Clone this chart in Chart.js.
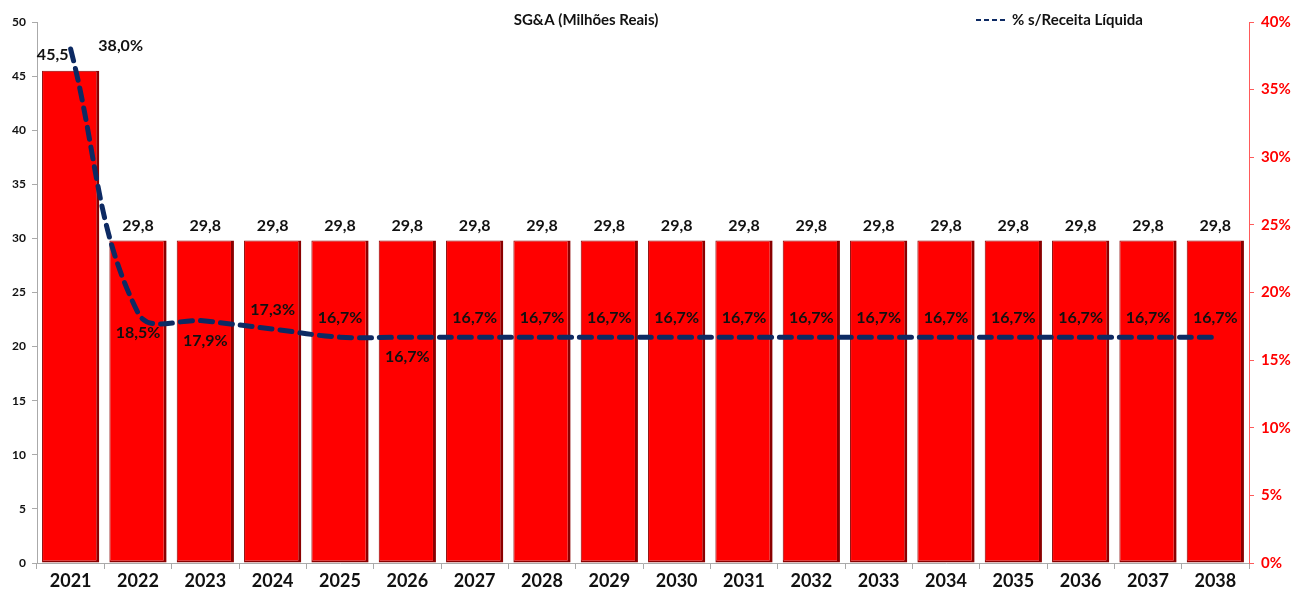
<!DOCTYPE html>
<html>
<head>
<meta charset="utf-8">
<script src="https://cdn.jsdelivr.net/npm/chart.js@4.4.1/dist/chart.umd.min.js"></script>
<style>
html,body{margin:0;padding:0;background:#fff;}
#wrap{width:1297px;height:596px;position:relative;}
</style>
</head>
<body>
<div id="wrap"><canvas id="c" width="1297" height="596"></canvas></div>
<script>
const categories = ['2021','2022','2023','2024','2025','2026','2027','2028','2029','2030','2031','2032','2033','2034','2035','2036','2037','2038'];
const sgaValues = [45.5,29.8,29.8,29.8,29.8,29.8,29.8,29.8,29.8,29.8,29.8,29.8,29.8,29.8,29.8,29.8,29.8,29.8];
const pctValues = [38.0,18.5,17.9,17.3,16.7,16.7,16.7,16.7,16.7,16.7,16.7,16.7,16.7,16.7,16.7,16.7,16.7,16.7];
const leftTicks = [0,5,10,15,20,25,30,35,40,45,50];
const rightTicks = [0,5,10,15,20,25,30,35,40];
const titleText = 'SG&A (Milhões Reais)';
const legendText = '% s/Receita Líquida';

// label placement (style only)
const pctPlacement = ['right','below','below','above','above','below','above','above','above','above','above','above','above','above','above','above','above','above'];

const FONT = 'Lato, "Open Sans", sans-serif';
const fmt = (v, d) => v.toFixed(d).replace('.', ',');

const labelPlugin = {
  id: 'labels',
  afterDatasetsDraw(chart) {
    const ctx = chart.ctx;
    ctx.save();
    ctx.font = 'bold 16px ' + FONT;
    ctx.fillStyle = '#111';
    ctx.textAlign = 'center';
    ctx.textBaseline = 'middle';
    const barMeta = chart.getDatasetMeta(1);
    barMeta.data.forEach((el, i) => {
      let x = el.x, y = el.y - 15;
      if (i === 0) { x = el.x - 18; y = el.y - 16; }
      ctx.fillText(fmt(sgaValues[i], 1), x, y);
    });
    const lineMeta = chart.getDatasetMeta(0);
    lineMeta.data.forEach((el, i) => {
      let x = el.x, y = el.y;
      const p = pctPlacement[i];
      if (p === 'right') { x += 50; y -= 3; }
      else if (p === 'below') { y += 20; }
      else { y -= 19; }
      ctx.fillText(fmt(pctValues[i], 1) + '%', x, y);
    });
    // title
    ctx.font = 'bold 15px ' + FONT;
    ctx.fillStyle = '#111';
    ctx.fillText(titleText, 586, 20);
    // legend
    ctx.strokeStyle = '#0d2a63';
    ctx.lineWidth = 2;
    ctx.setLineDash([5, 3]);
    ctx.beginPath();
    ctx.moveTo(976, 20);
    ctx.lineTo(1008, 20);
    ctx.stroke();
    ctx.setLineDash([]);
    ctx.textAlign = 'left';
    ctx.fillText(legendText, 1012, 20);
    ctx.restore();
  }
};

new Chart(document.getElementById('c'), {
  data: {
    labels: categories,
    datasets: [
      {
        type: 'line',
        label: legendText,
        data: pctValues,
        yAxisID: 'y2',
        borderColor: '#0d2a63',
        borderWidth: 5,
        borderDash: [12, 8],
        borderCapStyle: 'round',
        pointRadius: 0,
        tension: 0.4,
        fill: false,
        order: 0
      },
      {
        type: 'bar',
        label: 'SG&A',
        data: sgaValues,
        yAxisID: 'y',
        backgroundColor: '#ff0000',
        borderColor: '#8a0000',
        borderWidth: {left: 1, right: 3, top: 1, bottom: 2},
        borderSkipped: false,
        barPercentage: 0.85,
        categoryPercentage: 1.0,
        order: 1
      }
    ]
  },
  options: {
    responsive: false,
    animation: false,
    layout: {padding: {top: 22, right: 0, left: 0, bottom: 0}},
    plugins: {legend: {display: false}, title: {display: false}, tooltip: {enabled: false}},
    scales: {
      x: {
        grid: {display: true, drawOnChartArea: false, offset: true, tickLength: 6, color: '#aaa'},
        border: {display: true, color: '#aaa'},
        ticks: {color: '#111', font: {family: FONT, size: 18, weight: 'bold'}, padding: 1},
        afterFit(s) { s.height = 33; }
      },
      y: {
        position: 'left',
        min: 0, max: 50,
        afterBuildTicks(s) { s.ticks = leftTicks.map(v => ({value: v})); },
        grid: {display: true, drawOnChartArea: false, tickLength: 5, color: '#aaa'},
        border: {display: true, color: '#aaa'},
        ticks: {color: '#111', font: {family: FONT, size: 12, weight: 'bold'}, padding: 6},
        afterFit(s) { s.width = 37; }
      },
      y2: {
        position: 'right',
        min: 0, max: 40,
        afterBuildTicks(s) { s.ticks = rightTicks.map(v => ({value: v})); },
        grid: {display: true, drawOnChartArea: false, tickLength: 5, color: '#ff5a5a'},
        border: {display: true, color: '#ff5a5a', dash: [2, 3]},
        ticks: {color: '#ff0000', font: {family: FONT, size: 15, weight: 'bold'}, padding: 7, callback: v => v + '%'},
        afterFit(s) { s.width = 48; }
      }
    }
  },
  plugins: [labelPlugin]
});
</script>
</body>
</html>
